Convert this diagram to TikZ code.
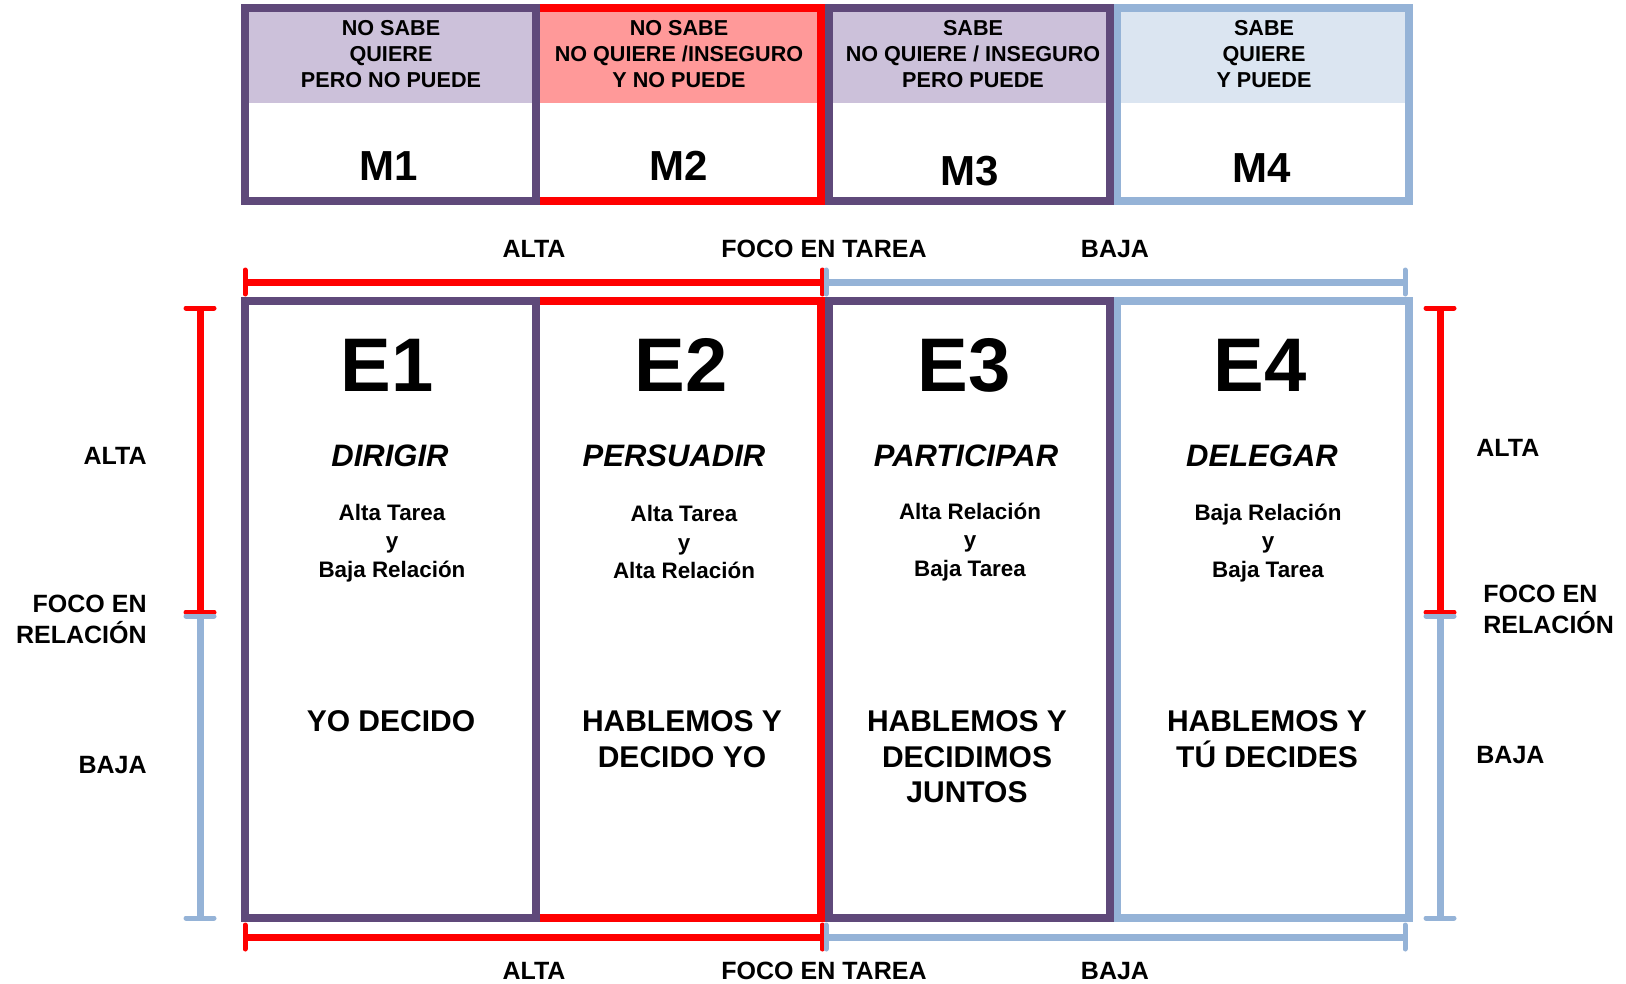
\documentclass[tikz,border=0pt]{standalone}
\usepackage{fontspec}
\setmainfont{Liberation Sans}
\definecolor{purp}{HTML}{5F497A}
\definecolor{lav}{HTML}{CCC1DA}
\definecolor{redc}{HTML}{FF0000}
\definecolor{pinkc}{HTML}{FF9999}
\definecolor{bluec}{HTML}{95B3D7}
\definecolor{lblue}{HTML}{DBE5F1}
\begin{document}
\begin{tikzpicture}[x=0.5pt,y=-0.5pt,
  boxline/.style={line width=4pt,line join=miter},
  hdr/.style={font=\bfseries\fontsize{10.8}{13}\selectfont,align=center,inner sep=0pt},
  mlab/.style={font=\bfseries\fontsize{21}{25}\selectfont,inner sep=0pt},
  elab/.style={font=\bfseries\fontsize{38}{44}\selectfont,inner sep=0pt},
  verbtxt/.style={font=\bfseries\itshape\fontsize{15.5}{18}\selectfont,inner sep=0pt},
  smalltxt/.style={font=\bfseries\fontsize{11.2}{14.3}\selectfont,align=center,inner sep=0pt},
  stmt/.style={font=\bfseries\fontsize{15}{17.75}\selectfont,align=center,inner sep=0pt},
  axl/.style={font=\bfseries\fontsize{12.5}{15.5}\selectfont,inner sep=0pt},
  bar/.style={line width=3.5pt},
  tickmark/.style={line width=2.5pt,line cap=round}]
\useasboundingbox (0,0) rectangle (1626,984);

% ---------- top boxes: header fills ----------
\fill[lav]   (245,8) rectangle (536,103);
\fill[pinkc] (536,8) rectangle (821,103);
\fill[lav]   (828.5,8) rectangle (1110,103);
\fill[lblue] (1117,8) rectangle (1409,103);
% borders
\draw[boxline,redc]  (536,8) rectangle (821,201);
\draw[boxline,purp]  (245,8) rectangle (536,201);
\draw[boxline,bluec] (1117,8) rectangle (1409,201);
\draw[boxline,purp]  (828.5,8) rectangle (1110,201);

\node[hdr] (h1) at (391,54) {NO SABE\\QUIERE\\PERO NO PUEDE};
\node[hdr] (h2) at (679,54) {NO SABE\\NO QUIERE /INSEGURO\\Y NO PUEDE};
\node[hdr] (h3) at (973,54) {SABE\\NO QUIERE / INSEGURO\\PERO PUEDE};
\node[hdr] (h4) at (1264,54) {SABE\\QUIERE\\Y PUEDE};

\node[mlab] (m1) at (389,166) {M1};
\node[mlab] (m2) at (679,166) {M2};
\node[mlab] (m3) at (970,171) {M3};
\node[mlab] (m4) at (1262,168) {M4};

% ---------- top axis ----------
\node[axl] (ta1) at (534,249) {ALTA};
\node[axl] (ta2) at (824,249) {FOCO EN TAREA};
\node[axl] (ta3) at (1115,249) {BAJA};
\coordinate (tL) at (245,282);
\coordinate (tM1) at (822,282);
\coordinate (tM2) at (826,282);
\coordinate (tR) at (1405,282);
\draw[bar,redc] (tL) -- (tM1);
\draw[bar,bluec] (tM2) -- (tR);
\draw[tickmark,redc] ([yshift=6pt]tL) -- ([yshift=-6pt]tL);
\draw[tickmark,redc] ([yshift=6pt]tM1) -- ([yshift=-6pt]tM1);
\draw[tickmark,bluec] ([yshift=6pt]tM2) -- ([yshift=-6pt]tM2);
\draw[tickmark,bluec] ([yshift=6pt]tR) -- ([yshift=-6pt]tR);

% ---------- main boxes ----------
\draw[boxline,redc]  (536,301) rectangle (821,918);
\draw[boxline,purp]  (245,301) rectangle (536,918);
\draw[boxline,bluec] (1117,301) rectangle (1409,918);
\draw[boxline,purp]  (828.5,301) rectangle (1110,918);

\node[elab] (e1) at (387,365) {E1};
\node[elab] (e2) at (681,365) {E2};
\node[elab] (e3) at (964,365) {E3};
\node[elab] (e4) at (1260,365) {E4};

\node[verbtxt] (v1) at (390,456) {DIRIGIR};
\node[verbtxt] (v2) at (674,456) {PERSUADIR};
\node[verbtxt] (v3) at (966,456) {PARTICIPAR};
\node[verbtxt] (v4) at (1262,456) {DELEGAR};

\node[smalltxt] (s1) at (392,543) {Alta Tarea\\y\\Baja Relación};
\node[smalltxt] (s2) at (684,542) {Alta Tarea\\y\\Alta Relación};
\node[smalltxt] (s3) at (970,542) {Alta Relación\\y\\Baja Tarea};
\node[smalltxt] (s4) at (1268,543) {Baja Relación\\y\\Baja Tarea};

\node[stmt] (d1) at (391,721) {YO DECIDO};
\node[stmt] (d2) at (682,739) {HABLEMOS Y\\DECIDO YO};
\node[stmt] (d3) at (967,757) {HABLEMOS Y\\DECIDIMOS\\JUNTOS};
\node[stmt] (d4) at (1267,739) {HABLEMOS Y\\TÚ DECIDES};

% ---------- bottom axis ----------
\coordinate (bL) at (245,937);
\coordinate (bM1) at (822,937);
\coordinate (bM2) at (826,937);
\coordinate (bR) at (1405,937);
\draw[bar,redc] (bL) -- (bM1);
\draw[bar,bluec] (bM2) -- (bR);
\draw[tickmark,redc] ([yshift=6pt]bL) -- ([yshift=-6pt]bL);
\draw[tickmark,redc] ([yshift=6pt]bM1) -- ([yshift=-6pt]bM1);
\draw[tickmark,bluec] ([yshift=6pt]bM2) -- ([yshift=-6pt]bM2);
\draw[tickmark,bluec] ([yshift=6pt]bR) -- ([yshift=-6pt]bR);
\node[axl] (ba1) at (534,971) {ALTA};
\node[axl] (ba2) at (824,971) {FOCO EN TAREA};
\node[axl] (ba3) at (1115,971) {BAJA};

% ---------- left axis ----------
\coordinate (lT) at (200,308);
\coordinate (lM1) at (200,612);
\coordinate (lM2) at (200,616);
\coordinate (lB) at (200,918);
\draw[bar,redc] (lT) -- (lM1);
\draw[bar,bluec] (lM2) -- (lB);
\draw[tickmark,redc] ([xshift=-7pt]lT) -- ([xshift=7pt]lT);
\draw[tickmark,redc] ([xshift=-7pt]lM1) -- ([xshift=7pt]lM1);
\draw[tickmark,bluec] ([xshift=-7pt]lM2) -- ([xshift=7pt]lM2);
\draw[tickmark,bluec] ([xshift=-7pt]lB) -- ([xshift=7pt]lB);
\node[axl,anchor=east] (la1) at (147,456) {ALTA};
\node[axl,anchor=east,align=right] (la2) at (147,619) {FOCO EN\\RELACIÓN};
\node[axl,anchor=east] (la3) at (147,765) {BAJA};

% ---------- right axis ----------
\coordinate (rT) at (1440,308);
\coordinate (rM1) at (1440,612);
\coordinate (rM2) at (1440,616);
\coordinate (rB) at (1440,918);
\draw[bar,redc] (rT) -- (rM1);
\draw[bar,bluec] (rM2) -- (rB);
\draw[tickmark,redc] ([xshift=-7pt]rT) -- ([xshift=7pt]rT);
\draw[tickmark,redc] ([xshift=-7pt]rM1) -- ([xshift=7pt]rM1);
\draw[tickmark,bluec] ([xshift=-7pt]rM2) -- ([xshift=7pt]rM2);
\draw[tickmark,bluec] ([xshift=-7pt]rB) -- ([xshift=7pt]rB);
\node[axl,anchor=west] (ra1) at (1476,448) {ALTA};
\node[axl,anchor=west,align=left] (ra2) at (1483,609) {FOCO EN\\RELACIÓN};
\node[axl,anchor=west] (ra3) at (1476,755) {BAJA};
\end{tikzpicture}
\end{document}
